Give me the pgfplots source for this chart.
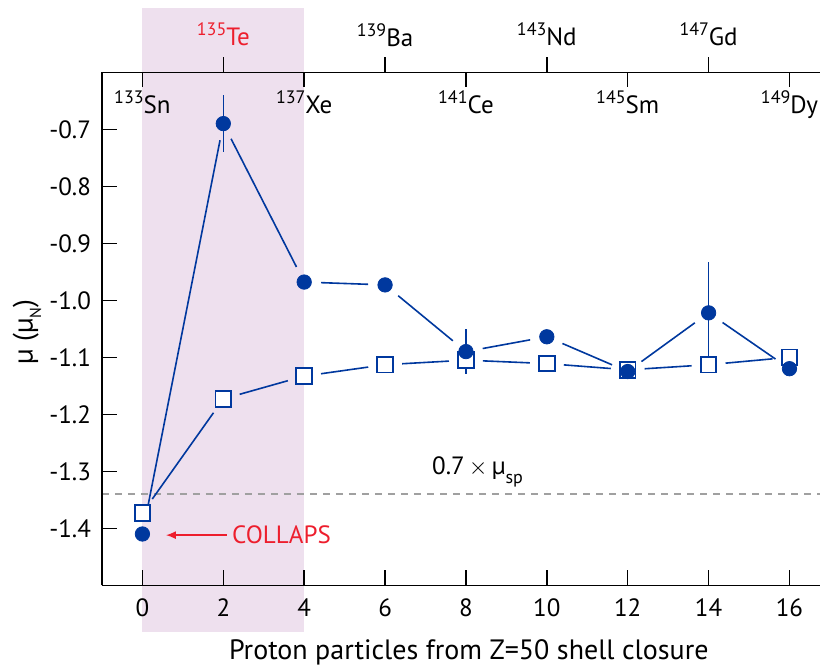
\documentclass[border=0pt]{standalone}
\usepackage{pgfplots}
\pgfplotsset{compat=1.18}
\usepackage{pgfplotstable}
\usepackage{fontspec}
\setmainfont{PT Sans}
\usetikzlibrary{arrows.meta}
\definecolor{myblue}{RGB}{0,56,158}
\definecolor{mypink}{RGB}{238,224,238}
\definecolor{myred}{RGB}{237,30,45}
\definecolor{mygray}{RGB}{160,160,160}
\newcommand{\fs}{\fontsize{12.5}{15}\selectfont}
\newcommand{\fl}{\fontsize{14}{17}\selectfont}
\newcommand{\iso}[2]{\raisebox{0.4em}{\fontsize{9}{10}\selectfont #1}#2}

\pgfplotstableread{
x y e
0 -1.41 0
2 -0.69 0.05
4 -0.968 0
6 -0.973 0
8 -1.09 0.04
10 -1.064 0
12 -1.125 0
14 -1.022 0.09
16 -1.12 0
}\circdata
\pgfplotstableread{
x y
0 -1.373
2 -1.173
4 -1.133
6 -1.113
8 -1.105
10 -1.111
12 -1.122
14 -1.113
16 -1.100
}\sqdata

\pgfplotsset{base/.style={
  scale only axis, width=358.9pt, height=256.5pt,
  xmin=-1, xmax=16.75, ymin=-1.5, ymax=-0.6,
  clip=false,
  axis line style={line width=0.75pt, black},
  major tick length=7.5pt,
  every tick/.style={line width=0.75pt, black},
  tick label style={font=\fs},
  /pgf/number format/assume math mode=true,
}, segstyle/.style={myblue, line width=0.8pt, mark=none, shorten >=8.5pt, shorten <=8.5pt}}
\newcommand{\seg}[4]{\addplot[segstyle] coordinates {(#1,#2) (#3,#4)};}

\begin{document}
\begin{tikzpicture}
\begin{axis}[base,
  axis x line*=bottom, axis y line*=left,
  tick align=inside, axis on top,
  xtick={0,2,4,6,8,10,12,14,16},
  ytick={-1.4,-1.3,-1.2,-1.1,-1.0,-0.9,-0.8,-0.7},
  yticklabel style={xshift=-2pt, /pgf/number format/fixed, /pgf/number format/fixed zerofill, /pgf/number format/precision=1},
  xticklabel style={yshift=-3pt},
]
\fill[mypink] (axis cs:0,-1.582) rectangle (axis cs:4,-0.4872);
\addplot[mygray, line width=1pt, dash pattern=on 3.5pt off 3pt, mark=none] coordinates {(-1,-1.34) (16.75,-1.34)};
% circle series segments
\seg{0}{-1.41}{2}{-0.69}
\seg{2}{-0.69}{4}{-0.968}
\seg{4}{-0.968}{6}{-0.973}
\seg{6}{-0.973}{8}{-1.09}
\seg{8}{-1.09}{10}{-1.064}
\seg{10}{-1.064}{12}{-1.125}
\seg{12}{-1.125}{14}{-1.022}
\seg{14}{-1.022}{16}{-1.12}
% square series segments
\seg{0}{-1.373}{2}{-1.173}
\seg{2}{-1.173}{4}{-1.133}
\seg{4}{-1.133}{6}{-1.113}
\seg{6}{-1.113}{8}{-1.105}
\seg{8}{-1.105}{10}{-1.111}
\seg{10}{-1.111}{12}{-1.122}
\seg{12}{-1.122}{14}{-1.113}
\seg{14}{-1.113}{16}{-1.100}
\addplot[only marks, mark=square*, mark size=3.9pt, mark options={fill=white, draw=myblue, line width=0.9pt}] table[x=x,y=y] {\sqdata};
\addplot[only marks, mark=*, mark size=3.6pt, mark options={fill=myblue, draw=myblue},
  error bars/.cd, y dir=both, y explicit, error mark=none,
  error bar style={line width=0.75pt, myblue}] table[x=x,y=y,y error=e] {\circdata};
% isotope labels inside
\node[anchor=base, font=\fs] at (axis cs:0,-0.6714) {\iso{133}{Sn}};
\node[anchor=base, font=\fs] at (axis cs:4,-0.6714) {\iso{137}{Xe}};
\node[anchor=base, font=\fs] at (axis cs:8,-0.6714) {\iso{141}{Ce}};
\node[anchor=base, font=\fs] at (axis cs:12,-0.6714) {\iso{145}{Sm}};
\node[anchor=base, font=\fs] at (axis cs:16,-0.6714) {\iso{149}{Dy}};
% annotations
\node[anchor=base west, font=\fs] at (axis cs:6.99,-1.306) {0.7\,$\times$\,µ\raisebox{-0.35em}{\fontsize{9}{10}\selectfont sp}};
\draw[myred, line width=0.75pt, -{Latex[length=5pt,width=4pt]}] (axis cs:2.09,-1.412) -- (axis cs:0.58,-1.412);
\node[anchor=base west, font=\fs, text=myred, inner sep=0pt] at (axis cs:2.21,-1.4275) {COLLAPS};
% axis labels
\node[rotate=90, font=\fl] at ([xshift=-37.5pt, yshift=-1.6pt]rel axis cs:0,0.5) {µ (µ\raisebox{-0.3em}{\fontsize{8}{9}\selectfont N})};
\node[anchor=base, font=\fl] at ([yshift=-37.3pt]rel axis cs:0.511,0) {Proton particles from Z=50 shell closure};
\end{axis}
\begin{axis}[base, axis x line*=top, axis y line=none,
  xtick={0,4,8,12,16}, xticklabels={}, tick align=inside]
\end{axis}
\begin{axis}[base, axis x line*=top, axis y line=none,
  xtick={2,6,10,14}, tick align=outside,
  xticklabels={{\textcolor{myred}{\iso{135}{Te}}},{\iso{139}{Ba}},{\iso{143}{Nd}},{\iso{147}{Gd}}},
  xticklabel style={yshift=2pt}]
\end{axis}
\pgfresetboundingbox
\path (-51pt,-40.85pt) rectangle (359.5pt,292.65pt);
\end{tikzpicture}
\end{document}
